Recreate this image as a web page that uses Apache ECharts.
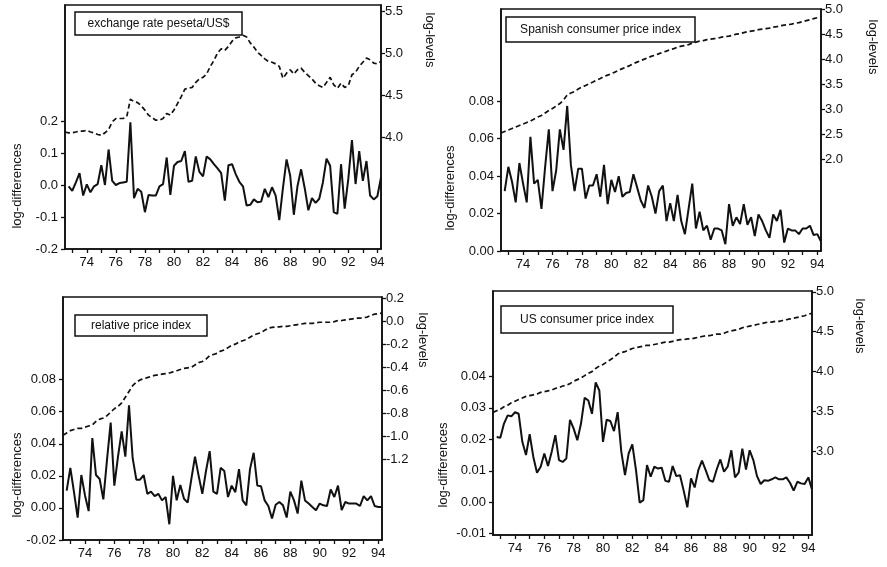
<!DOCTYPE html>
<html>
<head>
<meta charset="utf-8">
<script src="https://cdn.jsdelivr.net/npm/echarts@6/dist/echarts.min.js"></script>
<style>
html,body{margin:0;padding:0;background:#fff;}
#c{width:887px;height:567px;}
</style>
</head>
<body>
<div id="c"></div>
<script>
// Quarterly observations 1972Q3 .. 1994Q2
const quarters = [];
for (let y = 1972, q = 3; quarters.length < 88; ) {
  quarters.push(y + 'Q' + q);
  q++; if (q > 4) { q = 1; y++; }
}

// Panel titles
const titles = ['exchange rate peseta/US$', 'Spanish consumer price index', 'relative price index', 'US consumer price index'];

// Exchange rate peseta/US$
const exchDiff = [-0.004,-0.018,0.008,0.037,-0.033,0.002,-0.023,-0.004,0.003,0.062,
  0.000,0.111,0.013,0.000,0.006,0.008,0.010,0.196,-0.041,-0.012,
  -0.021,-0.085,-0.031,-0.033,-0.033,-0.004,0.003,0.086,-0.031,0.060,
  0.072,0.075,0.106,0.010,0.013,0.089,0.041,0.027,0.089,0.080,
  0.065,0.052,0.037,-0.049,0.062,0.065,0.034,0.010,-0.004,-0.064,
  -0.062,-0.045,-0.054,-0.052,-0.012,-0.038,-0.007,-0.033,-0.110,-0.010,
  0.080,0.029,-0.093,-0.004,0.049,-0.010,-0.079,-0.041,-0.056,-0.043,
  0.008,0.082,0.060,-0.085,-0.090,0.065,-0.074,0.019,0.140,0.003,
  0.106,0.013,0.075,-0.033,-0.045,-0.035,0.024];
const exchLevel = [4.06,4.05,4.05,4.06,4.07,4.07,4.08,4.06,4.05,4.03,
  4.02,4.05,4.09,4.18,4.22,4.22,4.22,4.24,4.45,4.42,
  4.41,4.37,4.32,4.26,4.23,4.20,4.20,4.22,4.28,4.26,
  4.32,4.40,4.48,4.57,4.58,4.59,4.65,4.69,4.71,4.75,
  4.84,4.91,5.00,5.05,5.03,5.08,5.14,5.18,5.19,5.21,
  5.19,5.12,5.07,5.01,4.97,4.93,4.90,4.89,4.87,4.84,
  4.70,4.76,4.80,4.75,4.80,4.82,4.77,4.73,4.69,4.64,
  4.61,4.59,4.65,4.71,4.62,4.58,4.64,4.59,4.61,4.74,
  4.77,4.84,4.89,4.94,4.92,4.88,4.87,4.90];

// Spanish consumer price index
const spainDiff = [0.032,0.045,0.037,0.026,0.047,0.036,0.026,0.061,0.036,0.038,
  0.0225,0.045,0.065,0.032,0.043,0.065,0.054,0.0775,0.046,0.032,
  0.044,0.044,0.028,0.035,0.035,0.041,0.029,0.046,0.025,0.038,
  0.0315,0.040,0.029,0.031,0.0315,0.041,0.034,0.027,0.023,0.035,
  0.029,0.020,0.032,0.035,0.016,0.0256,0.016,0.030,0.016,0.009,
  0.0225,0.036,0.012,0.021,0.011,0.0135,0.006,0.012,0.012,0.011,
  0.0036,0.025,0.0135,0.018,0.0144,0.025,0.014,0.018,0.008,0.0195,
  0.016,0.011,0.007,0.0195,0.016,0.022,0.0045,0.012,0.011,0.011,
  0.009,0.012,0.012,0.0135,0.0085,0.009,0.005];
const spainLevel = [2.53,2.56,2.59,2.62,2.65,2.68,2.71,2.74,2.77,2.81,
  2.85,2.88,2.93,2.98,3.02,3.07,3.12,3.19,3.29,3.33,
  3.36,3.41,3.45,3.48,3.52,3.55,3.59,3.62,3.66,3.69,
  3.72,3.75,3.79,3.82,3.85,3.88,3.92,3.95,3.98,4.01,
  4.04,4.07,4.09,4.12,4.15,4.17,4.20,4.22,4.25,4.27,
  4.28,4.30,4.33,4.35,4.37,4.38,4.40,4.41,4.42,4.43,
  4.45,4.46,4.47,4.49,4.51,4.52,4.54,4.56,4.57,4.58,
  4.60,4.61,4.62,4.63,4.65,4.66,4.68,4.69,4.70,4.71,
  4.73,4.74,4.76,4.78,4.80,4.82,4.84,4.86];

// Relative price index
const relDiff = [0.0108,0.025,0.0098,-0.006,0.0205,0.0078,-0.002,0.0436,0.0205,0.018,
  0.0053,0.030,0.0532,0.0139,0.032,0.0477,0.032,0.064,0.031,0.0176,
  0.0176,0.0205,0.0088,0.0102,0.0074,0.0088,0.0047,0.0068,-0.0102,0.020,
  0.0047,0.0143,0.0057,0.0033,0.018,0.032,0.020,0.0088,0.023,0.0354,
  0.0102,0.0088,0.025,0.023,0.0068,0.0139,0.0098,0.0242,0.0047,0.0016,
  0.0242,0.0344,0.0139,0.0135,0.0047,0.0012,-0.0066,0.002,0.0037,0.0016,
  -0.006,0.0102,0.0047,-0.0035,0.017,0.0047,0.0027,0.0006,-0.0014,0.0027,
  0.0016,0.0012,0.0115,0.0068,0.0139,-0.0014,0.0037,0.0027,0.0027,0.0027,
  0.0012,0.0074,0.0047,0.0074,0.0012,0.0006,0.0006];
const relLevel = [-0.99,-0.97,-0.95,-0.94,-0.93,-0.93,-0.92,-0.91,-0.90,-0.87,
  -0.85,-0.84,-0.82,-0.79,-0.76,-0.74,-0.71,-0.66,-0.61,-0.56,
  -0.53,-0.51,-0.50,-0.49,-0.48,-0.47,-0.465,-0.46,-0.455,-0.45,
  -0.44,-0.43,-0.42,-0.41,-0.405,-0.40,-0.38,-0.36,-0.35,-0.33,
  -0.30,-0.29,-0.28,-0.26,-0.25,-0.23,-0.21,-0.20,-0.18,-0.17,
  -0.16,-0.14,-0.12,-0.11,-0.10,-0.08,-0.06,-0.055,-0.05,-0.05,
  -0.045,-0.045,-0.04,-0.035,-0.03,-0.025,-0.02,-0.02,-0.02,-0.015,
  -0.01,-0.01,-0.01,-0.01,-0.005,0.005,0.005,0.01,0.015,0.02,
  0.025,0.025,0.03,0.035,0.05,0.06,0.065,0.07];

// US consumer price index
const usDiff = [0.0207,0.0205,0.025,0.0276,0.0273,0.0286,0.0281,0.0192,0.015,0.0216,
  0.0144,0.0094,0.0113,0.0155,0.0115,0.016,0.0213,0.0134,0.0128,0.0139,
  0.0262,0.0234,0.0197,0.025,0.0332,0.0323,0.0281,0.0381,0.0355,0.0192,
  0.0262,0.0258,0.0226,0.0286,0.016,0.0086,0.0155,0.0184,0.0102,-0.0001,
  0.0007,0.0118,0.0081,0.0113,0.0107,0.011,0.0068,0.0065,0.0115,0.0083,
  0.0086,0.0037,-0.0016,0.0076,0.0047,0.0102,0.0132,0.0102,0.007,0.0065,
  0.0104,0.0136,0.0097,0.0113,0.0165,0.0079,0.0094,0.017,0.0104,0.0165,
  0.0134,0.0083,0.0058,0.007,0.0068,0.0073,0.0079,0.0073,0.0073,0.0079,
  0.0062,0.0037,0.0065,0.006,0.0058,0.0079,0.0041];
const usLevel = [3.49,3.51,3.53,3.56,3.58,3.61,3.63,3.65,3.67,3.69,
  3.70,3.71,3.72,3.74,3.75,3.76,3.77,3.79,3.80,3.82,
  3.83,3.85,3.88,3.90,3.92,3.95,3.98,4.00,4.04,4.07,
  4.09,4.12,4.15,4.18,4.22,4.24,4.25,4.27,4.29,4.30,
  4.31,4.32,4.33,4.33,4.34,4.35,4.36,4.37,4.37,4.38,
  4.39,4.40,4.40,4.41,4.41,4.42,4.43,4.44,4.45,4.45,
  4.46,4.47,4.47,4.48,4.50,4.51,4.52,4.53,4.55,4.56,
  4.57,4.58,4.59,4.60,4.61,4.62,4.62,4.63,4.63,4.64,
  4.65,4.66,4.67,4.68,4.69,4.70,4.72,4.73];

// Tick label values
const leftTicks = [
  [-0.2,-0.1,0.0,0.1,0.2],
  [0.00,0.02,0.04,0.06,0.08],
  [-0.02,0.00,0.02,0.04,0.06,0.08],
  [-0.01,0.00,0.01,0.02,0.03,0.04]
];
const rightTicks = [
  [4.0,4.5,5.0,5.5],
  [2.0,2.5,3.0,3.5,4.0,4.5,5.0],
  [-1.2,-1.0,-0.8,-0.6,-0.4,-0.2,0.0,0.2],
  [3.0,3.5,4.0,4.5,5.0]
];
const leftDecimals = [1,2,2,2];
const rightDecimals = [1,1,1,1];

const diffs = [exchDiff, spainDiff, relDiff, usDiff];
const levels = [exchLevel, spainLevel, relLevel, usLevel];

// Layout (pixels) and axis ranges
const layout = [
  {left:65, top:5, width:316, height:244, lmin:-0.2, lmax:0.5625, rmin:2.667, rmax:5.571,
   box:[75,12,167,23], lname:[17,186], rname:[430,40]},
  {left:501, top:9, width:320, height:242, lmin:0, lmax:0.1293, rmin:0.166, rmax:5.014,
   box:[506,17,189,25], lname:[450,188], rname:[873,47]},
  {left:63, top:297, width:319, height:243, lmin:-0.02, lmax:0.1315, rmin:-1.898, rmax:0.209,
   box:[75,315,132,21], lname:[17,475], rname:[423,340]},
  {left:493, top:291, width:319, height:244, lmin:-0.0104, lmax:0.0671, rmin:1.954, rmax:5.01,
   box:[501,306,172,27], lname:[443,465], rname:[860,326]}
];

const INK = '#111';
const FONT = '"Liberation Sans", Arial, sans-serif';
const grids = [], xAxes = [], yAxes = [], series = [], graphic = [];

layout.forEach((L, k) => {
  grids.push({left:L.left, top:L.top, width:L.width, height:L.height, show:true,
    borderColor:INK, borderWidth:1.6, backgroundColor:'#fff'});
  xAxes.push({type:'category', gridIndex:k, data:quarters, boundaryGap:false,
    axisLine:{onZero:false, lineStyle:{color:INK, width:1.6}},
    axisTick:{show:true, length:4, interval:(i, v) => v.endsWith('Q1'), lineStyle:{color:INK, width:1.3}},
    axisLabel:{interval:(i, v) => v.endsWith('Q1') && parseInt(v, 10) % 2 === 0,
      formatter:v => v.slice(2, 4), color:INK, fontSize:13, fontFamily:FONT, margin:7},
    splitLine:{show:false}});
  const ld = leftDecimals[k], rd = rightDecimals[k];
  yAxes.push({type:'value', gridIndex:k, position:'left', min:L.lmin, max:L.lmax,
    axisLine:{show:true, onZero:false, lineStyle:{color:INK, width:1.6}},
    axisTick:{show:true, length:4, customValues:leftTicks[k], lineStyle:{color:INK, width:1.3}},
    axisLabel:{customValues:leftTicks[k], formatter:v => Number(v).toFixed(ld), color:INK,
      fontSize:13, fontFamily:FONT, margin:7},
    splitLine:{show:false}});
  yAxes.push({type:'value', gridIndex:k, position:'right', min:L.rmin, max:L.rmax,
    axisLine:{show:true, onZero:false, lineStyle:{color:INK, width:1.6}},
    axisTick:{show:true, length:4, customValues:rightTicks[k], lineStyle:{color:INK, width:1.3}},
    axisLabel:{customValues:rightTicks[k], formatter:v => Number(v).toFixed(rd), color:INK,
      fontSize:13, fontFamily:FONT, margin:4},
    splitLine:{show:false}});
  series.push({type:'line', xAxisIndex:k, yAxisIndex:2*k, data:[null].concat(diffs[k]),
    symbol:'none', lineStyle:{color:INK, width:2}, z:3});
  series.push({type:'line', xAxisIndex:k, yAxisIndex:2*k+1, data:levels[k],
    symbol:'none', lineStyle:{color:INK, width:1.7, type:[5,3]}, z:2});

  const [bx, by, bw, bh] = L.box;
  graphic.push({type:'rect', shape:{x:bx, y:by, width:bw, height:bh}, z:10,
    style:{fill:'#fff', stroke:INK, lineWidth:1.5}});
  graphic.push({type:'text', x:bx + bw/2, y:by + bh/2, z:11,
    style:{text:titles[k], font:'12px ' + FONT, fill:INK, align:'center', verticalAlign:'middle'}});
  graphic.push({type:'text', x:L.lname[0], y:L.lname[1], rotation:Math.PI/2, z:11,
    style:{text:'log-differences', font:'13px ' + FONT, fill:INK, align:'center', verticalAlign:'middle'}});
  graphic.push({type:'text', x:L.rname[0], y:L.rname[1], rotation:-Math.PI/2, z:11,
    style:{text:'log-levels', font:'13px ' + FONT, fill:INK, align:'center', verticalAlign:'middle'}});
});

const chart = echarts.init(document.getElementById('c'), null, {renderer:'canvas'});
chart.setOption({
  animation:false,
  backgroundColor:'#fff',
  textStyle:{fontFamily:FONT},
  grid:grids, xAxis:xAxes, yAxis:yAxes, series:series, graphic:graphic
});
</script>
</body>
</html>
